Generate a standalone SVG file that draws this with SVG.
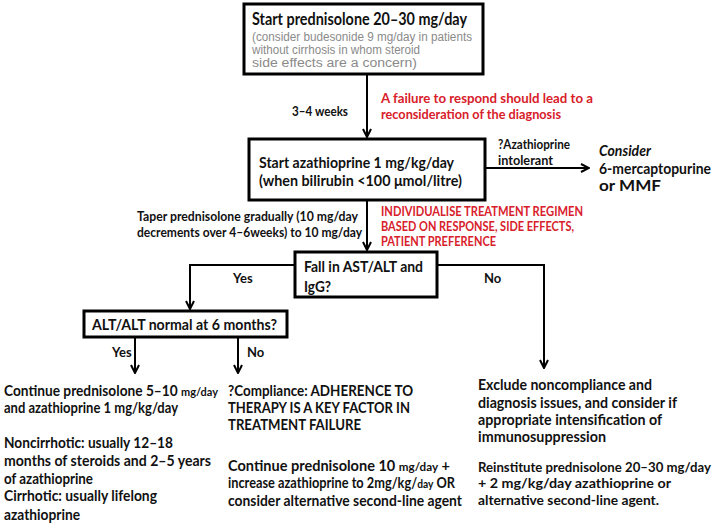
<svg xmlns="http://www.w3.org/2000/svg" width="714" height="524" viewBox="0 0 714 524">
<defs>
<marker id="ah" viewBox="0 0 10 10" refX="9" refY="5" markerWidth="10" markerHeight="10" markerUnits="userSpaceOnUse" orient="auto">
<path d="M1,1 L9,5 L1,9" fill="none" stroke="#000" stroke-width="2"/>
</marker>
<style>
.b{fill:#fff;stroke:#000;stroke-width:3}
.t{font-family:Lato,"Open Sans","Liberation Sans",sans-serif;font-weight:bold;fill:#111}
.g{font-family:"Liberation Sans",Arial,sans-serif;fill:#8a8a8a;font-size:12.5px}
.r{font-family:Lato,"Open Sans","Liberation Sans",sans-serif;font-weight:bold;fill:#d8202a;font-size:13px}
.c{fill:none;stroke:#000;stroke-width:2}
</style>
</defs>
<rect width="714" height="524" fill="#fff"/>
<g id="connectors">
<line class="c" x1="367" y1="75" x2="367" y2="137" marker-end="url(#ah)"/>
<line class="c" x1="367" y1="200" x2="367" y2="250" marker-end="url(#ah)"/>
<line class="c" x1="486" y1="168" x2="589" y2="168" marker-end="url(#ah)"/>
<polyline class="c" points="295,265 190,265 190,309" marker-end="url(#ah)"/>
<polyline class="c" points="437,265 544,265 544,368" marker-end="url(#ah)"/>
<line class="c" x1="135" y1="337" x2="135" y2="373" marker-end="url(#ah)"/>
<line class="c" x1="238" y1="337" x2="238" y2="373" marker-end="url(#ah)"/>
</g>
<g id="n1">
<rect class="b" x="244" y="4" width="239" height="70"/>
<text class="t" x="252" y="25" font-size="16.5" textLength="215" lengthAdjust="spacingAndGlyphs">Start prednisolone 20–30  mg/day</text>
<text class="g" x="252" y="41" textLength="220" lengthAdjust="spacingAndGlyphs">(consider budesonide 9 mg/day in patients</text>
<text class="g" x="252" y="54" textLength="168" lengthAdjust="spacingAndGlyphs">without cirrhosis in whom steroid</text>
<text class="g" x="252" y="67" textLength="165" lengthAdjust="spacingAndGlyphs">side effects are a concern)</text>
</g>
<g id="l1">
<text class="t" x="292" y="116" font-size="13" textLength="56" lengthAdjust="spacingAndGlyphs">3–4 weeks</text>
<text class="r" x="381" y="103" textLength="212" lengthAdjust="spacingAndGlyphs">A failure to respond should lead to a</text>
<text class="r" x="381" y="119" textLength="180" lengthAdjust="spacingAndGlyphs">reconsideration of the diagnosis</text>
</g>
<g id="n2">
<rect class="b" x="249" y="139" width="236" height="61"/>
<text class="t" x="259" y="168" font-size="16" textLength="195" lengthAdjust="spacingAndGlyphs">Start azathioprine 1 mg/kg/day</text>
<text class="t" x="259" y="186" font-size="16" textLength="203" lengthAdjust="spacingAndGlyphs">(when bilirubin &lt;100 μmol/litre)</text>
</g>
<g id="l2">
<text class="t" x="498" y="149" font-size="13" textLength="72" lengthAdjust="spacingAndGlyphs">?Azathioprine</text>
<text class="t" x="498" y="165" font-size="13" textLength="55" lengthAdjust="spacingAndGlyphs">intolerant</text>
</g>
<g id="n3">
<text class="t" x="599" y="156" font-size="16" font-style="italic" textLength="52" lengthAdjust="spacingAndGlyphs">Consider</text>
<text class="t" x="599" y="174" font-size="16" textLength="112" lengthAdjust="spacingAndGlyphs">6-mercaptopurine</text>
<text class="t" x="599" y="191" font-size="16" textLength="62" lengthAdjust="spacingAndGlyphs">or MMF</text>
</g>
<g id="l3">
<text class="t" x="137" y="221" font-size="13" textLength="221" lengthAdjust="spacingAndGlyphs">Taper prednisolone gradually (10 mg/day</text>
<text class="t" x="137" y="237" font-size="13" textLength="225" lengthAdjust="spacingAndGlyphs">decrements over 4–6weeks) to 10 mg/day</text>
<text class="r" x="381" y="216" textLength="202" lengthAdjust="spacingAndGlyphs">INDIVIDUALISE TREATMENT REGIMEN</text>
<text class="r" x="381" y="231" textLength="193" lengthAdjust="spacingAndGlyphs">BASED ON RESPONSE, SIDE EFFECTS,</text>
<text class="r" x="381" y="246" textLength="115" lengthAdjust="spacingAndGlyphs">PATIENT PREFERENCE</text>
</g>
<g id="n4">
<rect class="b" x="295" y="252" width="142" height="45"/>
<text class="t" x="304" y="272" font-size="16" textLength="119" lengthAdjust="spacingAndGlyphs">Fall in AST/ALT and</text>
<text class="t" x="304" y="292" font-size="16" textLength="27" lengthAdjust="spacingAndGlyphs">IgG?</text>
</g>
<text class="t" x="233" y="283" font-size="13">Yes</text>
<text class="t" x="484" y="283" font-size="13">No</text>
<g id="n5">
<rect class="b" x="84" y="311" width="203" height="26"/>
<text class="t" x="92" y="329.5" font-size="15.5" textLength="185" lengthAdjust="spacingAndGlyphs">ALT/ALT normal at 6 months?</text>
</g>
<text class="t" x="112" y="357" font-size="13">Yes</text>
<text class="t" x="247" y="357" font-size="13">No</text>
<g id="n6">
<text class="t" x="4" y="396" font-size="15" textLength="214" lengthAdjust="spacingAndGlyphs">Continue prednisolone 5–10 <tspan font-size="12">mg/day</tspan></text>
<text class="t" x="4" y="413" font-size="15" textLength="174" lengthAdjust="spacingAndGlyphs">and azathioprine 1 mg/kg/day</text>
<text class="t" x="4" y="448" font-size="15" textLength="169" lengthAdjust="spacingAndGlyphs">Noncirrhotic: usually 12–18</text>
<text class="t" x="4" y="466" font-size="15" textLength="207" lengthAdjust="spacingAndGlyphs">months of steroids and 2–5 years</text>
<text class="t" x="4" y="484" font-size="15" textLength="89" lengthAdjust="spacingAndGlyphs">of azathioprine</text>
<text class="t" x="4" y="501" font-size="15" textLength="153" lengthAdjust="spacingAndGlyphs">Cirrhotic: usually lifelong</text>
<text class="t" x="4" y="520" font-size="15" textLength="76" lengthAdjust="spacingAndGlyphs">azathioprine</text>
</g>
<g id="n7">
<text class="t" x="228" y="396" font-size="15" textLength="185" lengthAdjust="spacingAndGlyphs">?Compliance: ADHERENCE TO</text>
<text class="t" x="228" y="413" font-size="15" textLength="182" lengthAdjust="spacingAndGlyphs">THERAPY IS A KEY FACTOR IN</text>
<text class="t" x="228" y="430" font-size="15" textLength="133" lengthAdjust="spacingAndGlyphs">TREATMENT FAILURE</text>
<text class="t" x="228" y="471" font-size="15" textLength="222" lengthAdjust="spacingAndGlyphs">Continue prednisolone 10 <tspan font-size="12">mg/day</tspan> +</text>
<text class="t" x="228" y="488" font-size="15" textLength="227" lengthAdjust="spacingAndGlyphs">increase azathioprine to 2mg/kg/<tspan font-size="12">day</tspan> OR</text>
<text class="t" x="228" y="506" font-size="15" textLength="234" lengthAdjust="spacingAndGlyphs">consider alternative second-line agent</text>
</g>
<g id="n8">
<text class="t" x="478" y="390" font-size="15" textLength="174" lengthAdjust="spacingAndGlyphs">Exclude noncompliance and</text>
<text class="t" x="478" y="408" font-size="15" textLength="199" lengthAdjust="spacingAndGlyphs">diagnosis issues, and consider if</text>
<text class="t" x="478" y="425" font-size="15" textLength="184" lengthAdjust="spacingAndGlyphs">appropriate intensification of</text>
<text class="t" x="478" y="442" font-size="15" textLength="128" lengthAdjust="spacingAndGlyphs">immunosuppression</text>
<text class="t" x="478" y="472" font-size="14" textLength="233" lengthAdjust="spacingAndGlyphs">Reinstitute prednisolone 20–30  mg/day</text>
<text class="t" x="478" y="488" font-size="14" textLength="193" lengthAdjust="spacingAndGlyphs">+ 2  mg/kg/day  azathioprine or</text>
<text class="t" x="478" y="505" font-size="14" textLength="181" lengthAdjust="spacingAndGlyphs">alternative second-line agent.</text>
</g>
</svg>
